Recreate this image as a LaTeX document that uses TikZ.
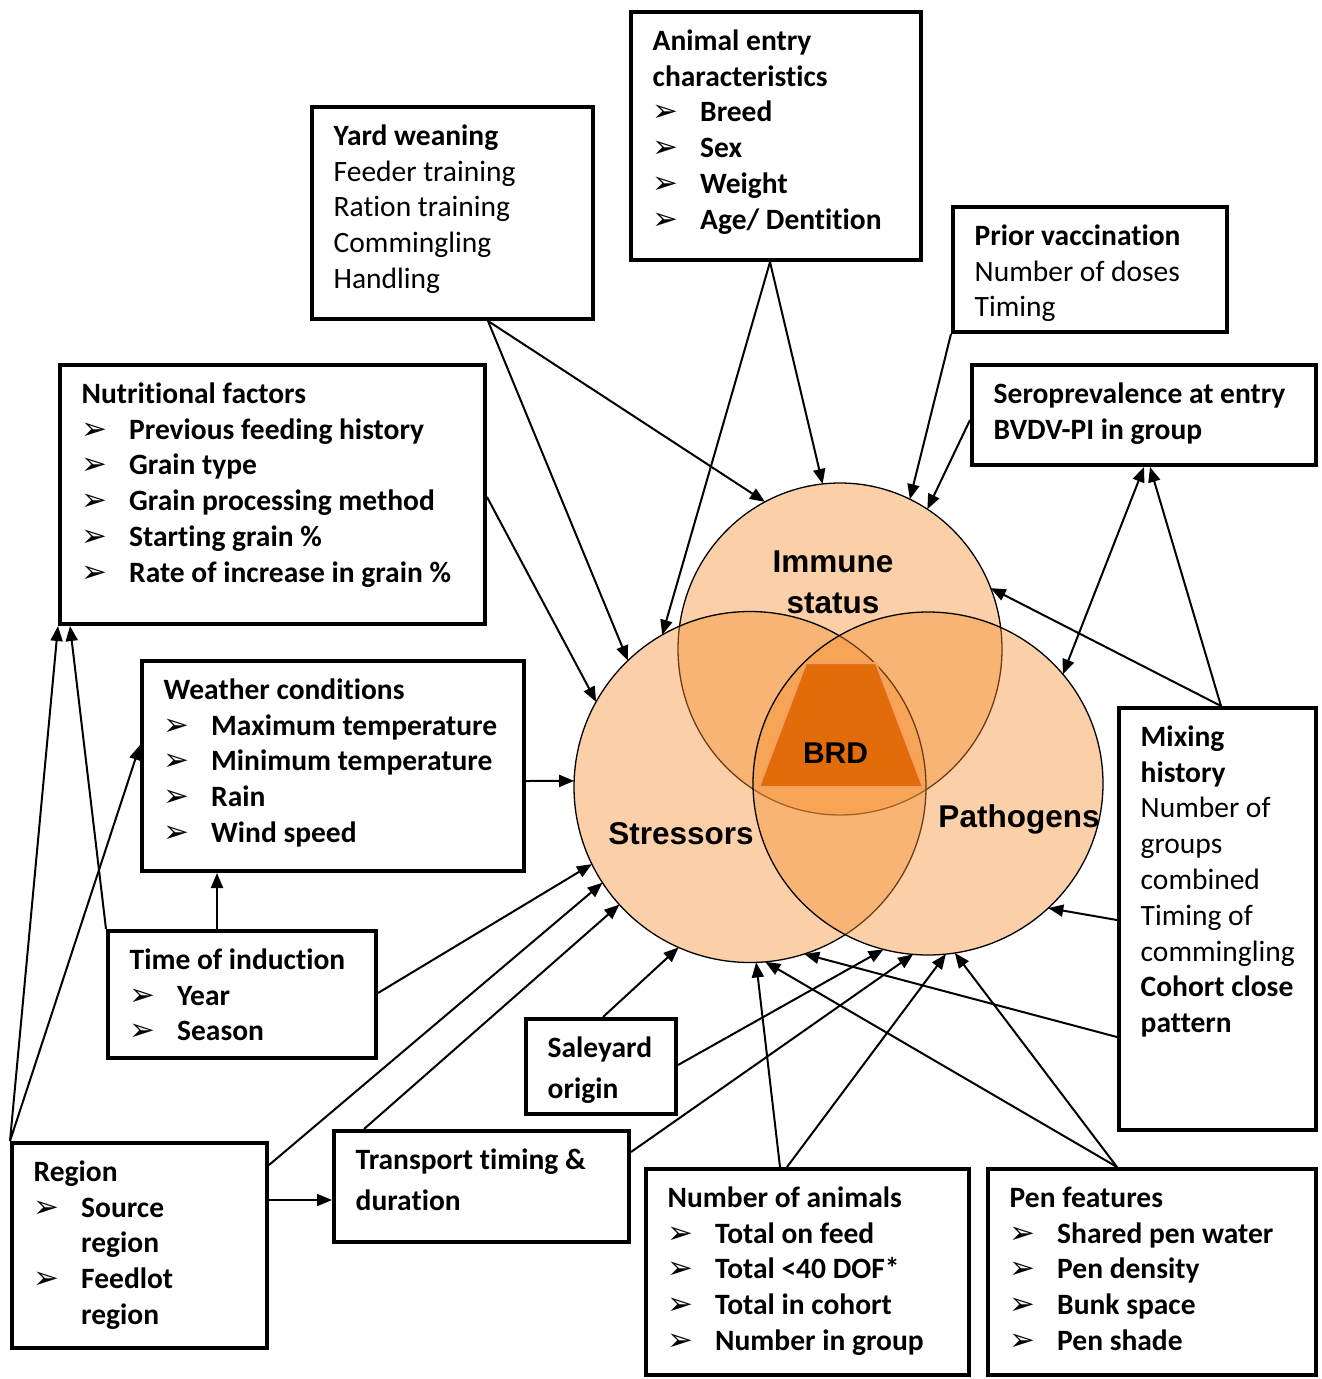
\documentclass[tikz,border=0pt]{standalone}
\usepackage{fontspec}
\setmainfont{Carlito}[Ligatures=NoCommon]
\newfontfamily\lsans{Liberation Sans}
\newfontfamily\dejavu{DejaVu Sans}
\usetikzlibrary{arrows.meta,calc,shapes.geometric}
\definecolor{venn}{RGB}{246,145,51}
\definecolor{brd}{RGB}{227,108,10}
\definecolor{brdlight}{RGB}{242,160,100}
\newcommand\fs{\rule{0pt}{26pt}}
\newcommand\bulglyph{\raisebox{0pt}{\dejavu\fontsize{31}{31}\selectfont ➢}}
\newcommand\bul[1]{\makebox[47.5pt][l]{\bulglyph}\textbf{#1}}
\newcommand\ind[1]{\hspace*{47.5pt}\textbf{#1}}
\begin{document}
\begin{tikzpicture}[x=1pt,y=-1pt,
  boxs/.style={draw, line width=4pt, outer sep=2pt, inner sep=0pt, anchor=north west},
  txt/.style={anchor=north west, inner sep=0pt, align=left, font=\fontsize{29.5}{35.8}\selectfont},
  txtw/.style={anchor=north west, inner sep=0pt, align=left, font=\fontsize{29.5}{41.5}\selectfont},
  vennc/.style={ellipse, draw=black, line width=1.3pt, fill=venn, fill opacity=0.43, draw opacity=1, inner sep=0pt, outer sep=0pt},
  vlbl/.style={anchor=base, inner sep=0pt, font=\lsans\bfseries\fontsize{31.5}{31.5}\selectfont},
  conn/.style={line width=2pt, -{Triangle[length=15pt,width=12pt]}},
  conn2/.style={line width=2pt, {Triangle[length=15pt,width=12pt]}-{Triangle[length=15pt,width=12pt]}}
]
\useasboundingbox[fill=white] (0,0) rectangle (1322,1379);

% ---------- Venn circles ----------
\node[vennc, minimum width=324pt, minimum height=332pt] (imm) at (840,649) {};
\node[vennc, minimum width=352pt, minimum height=351pt] (str) at (750,787) {};
\node[vennc, minimum width=350pt, minimum height=343pt] (pat) at (928,783.5) {};
\path[fill=brd, draw=brdlight, line width=2pt] (806,663) -- (876,663) -- (923,787) -- (759,787) -- cycle;

\node[vlbl] (immA) at (833,572) {Immune};
\node[vlbl] (immB) at (833,613) {status};
\node[vlbl] (strl) at (681,844.5) {Stressors};
\node[vlbl] (patl) at (1019,827) {Pathogens};
\node[vlbl, font=\lsans\bfseries\fontsize{30}{30}\selectfont] (brdl) at (835.5,763) {BRD};

% ---------- Boxes ----------
\node[boxs, minimum width=281pt, minimum height=212pt] (yard) at (310,105) {};
\node[txt] (yard-t) at ([xshift=23.5pt,yshift=-14pt]yard.north west)
 {\fs\textbf{Yard weaning}\\Feeder training\\Ration training\\Commingling\\Handling};

\node[boxs, minimum width=290pt, minimum height=248pt] (ani) at (629,10) {};
\node[txt] (ani-t) at ([xshift=23.5pt,yshift=-14pt]ani.north west)
 {\fs\textbf{Animal entry}\\\textbf{characteristics}\\\bul{Breed}\\\bul{Sex}\\\bul{Weight}\\\bul{Age/ Dentition}};

\node[boxs, minimum width=274pt, minimum height=125pt] (pri) at (951,205) {};
\node[txt] (pri-t) at ([xshift=23.5pt,yshift=-14pt]pri.north west)
 {\fs\textbf{Prior vaccination}\\Number of doses\\Timing};

\node[boxs, minimum width=344pt, minimum height=100pt] (ser) at (970,363) {};
\node[txt] (ser-t) at ([xshift=23.5pt,yshift=-14pt]ser.north west)
 {\fs\textbf{Seroprevalence at entry}\\\textbf{BVDV-PI in group}};

\node[boxs, minimum width=425pt, minimum height=259pt] (nut) at (58,363) {};
\node[txt] (nut-t) at ([xshift=23.5pt,yshift=-14pt]nut.north west)
 {\fs\textbf{Nutritional factors}\\\bul{Previous feeding history}\\\bul{Grain type}\\\bul{Grain processing method}\\\bul{Starting grain \%}\\\bul{Rate of increase in grain \%}};

\node[boxs, minimum width=382pt, minimum height=210pt] (wea) at (140,659) {};
\node[txt] (wea-t) at ([xshift=23.5pt,yshift=-14pt]wea.north west)
 {\fs\textbf{Weather conditions}\\\bul{Maximum temperature}\\\bul{Minimum temperature}\\\bul{Rain}\\\bul{Wind speed}};

\node[boxs, minimum width=268pt, minimum height=127pt] (tim) at (106,929) {};
\node[txt] (tim-t) at ([xshift=23.5pt,yshift=-14pt]tim.north west)
 {\fs\textbf{Time of induction}\\\bul{Year}\\\bul{Season}};

\node[boxs, minimum width=197pt, minimum height=422pt] (mix) at (1117,706) {};
\node[txt] (mix-t) at ([xshift=23.5pt,yshift=-14pt]mix.north west)
 {\fs\textbf{Mixing}\\\textbf{history}\\Number of\\groups\\combined\\Timing of\\commingling\\\textbf{Cohort close}\\\textbf{pattern}};

\node[boxs, minimum width=150pt, minimum height=95pt] (sal) at (524,1017) {};
\node[txtw] (sal-t) at ([xshift=23.5pt,yshift=-14pt]sal.north west)
 {\fs\textbf{Saleyard}\\\textbf{origin}};

\node[boxs, minimum width=255pt, minimum height=205pt] (reg) at (10,1141) {};
\node[txt] (reg-t) at ([xshift=23.5pt,yshift=-14pt]reg.north west)
 {\fs\textbf{Region}\\\bul{Source}\\\ind{region}\\\bul{Feedlot}\\\ind{region}};

\node[boxs, minimum width=295pt, minimum height=111pt] (tra) at (332,1129) {};
\node[txtw] (tra-t) at ([xshift=23.5pt,yshift=-14pt]tra.north west)
 {\fs\textbf{Transport timing \&}\\\textbf{duration}};

\node[boxs, minimum width=323pt, minimum height=206pt] (num) at (644,1167) {};
\node[txt] (num-t) at ([xshift=23.5pt,yshift=-14pt]num.north west)
 {\fs\textbf{Number of animals}\\\bul{Total on feed}\\\bul{Total <40 DOF*}\\\bul{Total in cohort}\\\bul{Number in group}};

\node[boxs, minimum width=328pt, minimum height=206pt] (pen) at (986,1167) {};
\node[txt] (pen-t) at ([xshift=23.5pt,yshift=-14pt]pen.north west)
 {\fs\textbf{Pen features}\\\bul{Shared pen water}\\\bul{Pen density}\\\bul{Bunk space}\\\bul{Pen shade}};

% ---------- Connectors ----------
\draw[conn] ([xshift=178pt]yard.south west) -- (imm.117.2);
\draw[conn] ([xshift=178pt]yard.south west) -- (str.134.6);
\draw[conn] ([xshift=141pt]ani.south west) -- (str.120.2);
\draw[conn] ([xshift=141pt]ani.south west) -- (imm.96.5);
\draw[conn] (pri.south west) -- (imm.65.8);
\draw[conn] ([yshift=-57pt]ser.north west) -- (imm.58);
\draw[conn] ([yshift=-134pt]nut.north east) -- (str.151.1);
\draw[conn] ([yshift=-122pt]wea.north east) -- (str.178);
\draw[conn2] ([xshift=174pt]ser.south west) -- (pat.39.6);
\draw[conn] ([xshift=104pt]mix.north west) -- ([xshift=180pt]ser.south west);
\draw[conn] ([xshift=104pt]mix.north west) -- (imm.22.8);
\draw[conn] ([yshift=-214pt]mix.north west) -- (pat.314);
\draw[conn] ([yshift=-331pt]mix.north west) -- (str.288.7);
\draw[conn] (reg.north west) -- (nut.south west);
\draw[conn] (tim.north west) -- ([xshift=12pt]nut.south west);
\draw[conn] (reg.north west) -- ([yshift=-86pt]wea.north west);
\draw[conn] ([xshift=111pt]tim.north west) -- ([xshift=77pt]wea.south west);
\draw[conn] ([yshift=-64pt]tim.north east) -- (str.206.6);
\draw[conn] ([yshift=-24pt]reg.north east) -- (str.213.6);
\draw[conn] ([yshift=-59pt]reg.north east) -- ([yshift=-71pt]tra.north west);
\draw[conn] ([xshift=32pt]tra.north west) -- (str.222.7);
\draw[conn] ([yshift=-23pt]tra.north east) -- (pat.265.7);
\draw[conn] ([xshift=79pt]sal.north west) -- (str.246.2);
\draw[conn] ([yshift=-48pt]sal.north east) -- (pat.255.5);
\draw[conn] ([xshift=136pt]num.north west) -- (str.272.3);
\draw[conn] ([xshift=143pt]num.north west) -- (pat.276.6);
\draw[conn] ([xshift=131pt]pen.north west) -- (str.275.2);
\draw[conn] ([xshift=131pt]pen.north west) -- (pat.279.9);
\end{tikzpicture}
\end{document}
